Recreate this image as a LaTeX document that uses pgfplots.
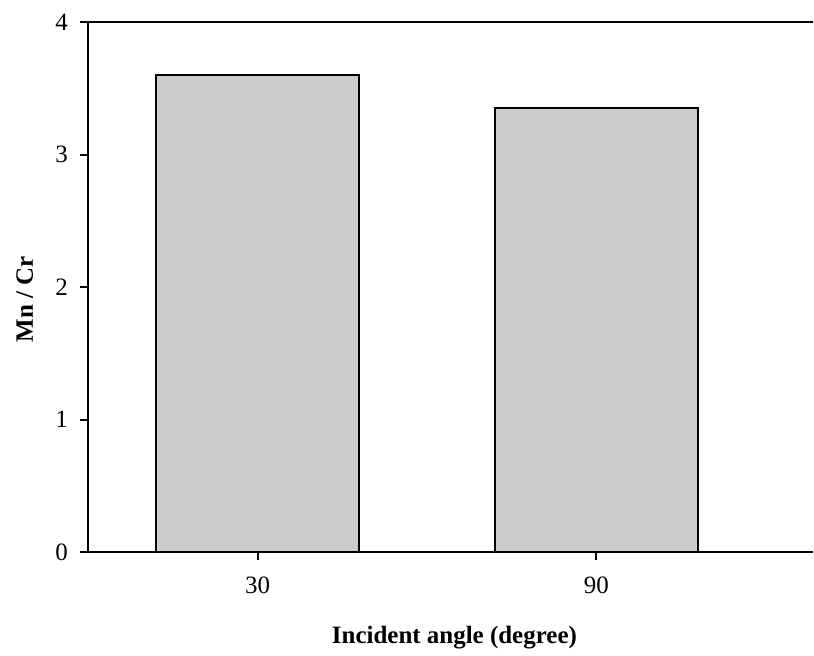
\documentclass[border=0pt]{standalone}
\usepackage{fontspec}
\setmainfont{Liberation Serif}
\usepackage{pgfplots}
\pgfplotsset{compat=1.18}
\definecolor{barfill}{RGB}{204,204,204}
\begin{document}
\begin{tikzpicture}
\begin{axis}[
  scale only axis, width=363pt, height=265.5pt,
  xmin=-0.5015, xmax=1.64, ymin=0, ymax=4,
  axis x line=box, axis y line=left,
  axis line style={-, line width=1pt},
  xtick={0,1}, xticklabels={30,90}, ytick={0,1,2,3,4},
  xtick pos=left, ytick pos=left,
  tick align=outside, major tick length=4pt,
  every tick/.style={black, line width=1pt},
  /pgf/number format/assume math mode=true,
  tick label style={font=\fontsize{12.5}{14}\selectfont},
  xticklabel style={yshift=-5pt},
  yticklabel style={xshift=-2.5pt},
  xlabel={\textbf{Incident angle (degree)}},
  ylabel={\textbf{Mn / Cr}},
  label style={font=\fontsize{12.5}{14}\selectfont},
  xlabel style={at={(rel axis cs:0.5055,-0.160)}, anchor=center},
  ylabel style={at={(rel axis cs:-0.087,0.477)}, anchor=center, rotate=0},
  ybar, bar width=0.6,
  clip=false,
]
\addplot[fill=barfill, draw=black, line width=1pt] coordinates {(0,3.6) (1,3.35)};
\path (rel axis cs:-0.1212,-0.177) rectangle (rel axis cs:1,1.0414);
\end{axis}
\end{tikzpicture}
\end{document}
